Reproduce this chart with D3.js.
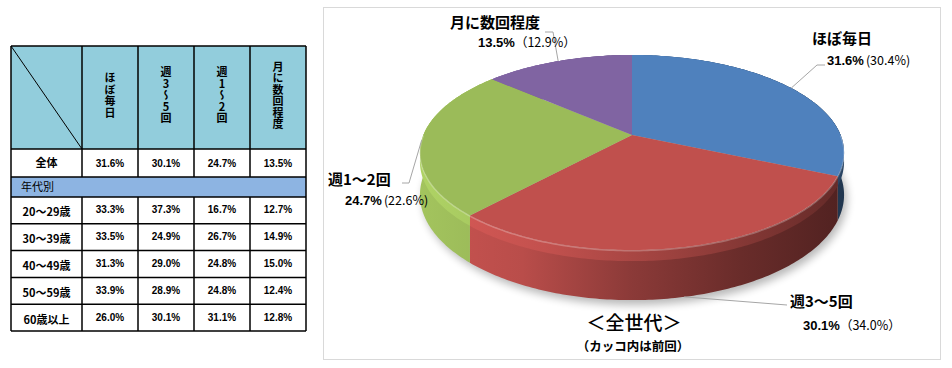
<!DOCTYPE html>
<meta charset="utf-8">
<style>
  body { margin: 0; background: #fff; }
  text { font-family: "Noto Sans CJK JP", "Liberation Sans", sans-serif; }
  .num { font-family: "Liberation Sans", Arial, sans-serif; font-weight: bold; font-size: 10px; }
  .lead { fill: none; stroke: #a6a6a6; stroke-width: 1; }
</style>
<body>
<div id="chart"></div>
<script src="https://cdn.jsdelivr.net/npm/d3@7"></script>
<script>

// ---- data ----
var categories = ["ほぼ毎日", "週3〜5回", "週1〜2回", "月に数回程度"];
var current    = [31.6, 30.1, 24.7, 13.5];
var previous   = [30.4, 34.0, 22.6, 12.9];
var totalLabel = "全体";
var groupLabel = "年代別";
var ageGroups  = ["20〜29歳", "30〜39歳", "40〜49歳", "50〜59歳", "60歳以上"];
var ageValues  = [
  [33.3, 37.3, 16.7, 12.7],
  [33.5, 24.9, 26.7, 14.9],
  [31.3, 29.0, 24.8, 15.0],
  [33.9, 28.9, 24.8, 12.4],
  [26.0, 30.1, 31.1, 12.8]
];
var colors = ["#4f81bd", "#c0504d", "#9bbb59", "#8064a2"];

var width = 952, height = 368;
var pct = function(v) { return d3.format(".1f")(v) + "%"; };

var svg = d3.select("#chart").append("svg")
    .attr("width", width)
    .attr("height", height);

// ================= table =================
var tX = 11, tY = 46, firstW = 71, tRight = 306;
var headH = 103, totalH = 28, groupH = 20, tBottom = 331;

var col = d3.scaleBand().domain(categories).range([tX + firstW, tRight]);
var rowTop = tY + headH + totalH + groupH;
var row = d3.scaleBand().domain(ageGroups).range([rowTop, tBottom]);

var table = svg.append("g").attr("class", "table");

// header fill
table.append("rect")
  .attr("x", tX).attr("y", tY)
  .attr("width", tRight - tX).attr("height", headH)
  .attr("fill", "#92cddc");
// group row fill
table.append("rect")
  .attr("x", tX).attr("y", tY + headH + totalH)
  .attr("width", tRight - tX).attr("height", groupH)
  .attr("fill", "#8db4e2");

// horizontal rules
var hLines = [tY, tY + headH, tY + headH + totalH, rowTop].concat(ageGroups.map(function(g) { return row(g) + row.bandwidth(); }));
table.selectAll(".hl").data(hLines).enter().append("line")
  .attr("x1", tX).attr("x2", tRight)
  .attr("y1", function(d) { return d; }).attr("y2", function(d) { return d; })
  .attr("stroke", "#000").attr("stroke-width", 1.5);

// vertical rules (group row has no inner rules)
var vLines = [tX].concat(categories.map(function(c) { return col(c); })).concat([tRight]);
vLines.forEach(function(x, i) {
  var inner = i > 0 && i < vLines.length - 1;
  var segs = inner ? [[tY, tY + headH + totalH], [rowTop, tBottom]] : [[tY, tBottom]];
  segs.forEach(function(s) {
    table.append("line")
      .attr("x1", x).attr("x2", x).attr("y1", s[0]).attr("y2", s[1])
      .attr("stroke", "#000").attr("stroke-width", 1.5);
  });
});

// diagonal in corner cell
table.append("line")
  .attr("x1", tX).attr("y1", tY).attr("x2", tX + firstW).attr("y2", tY + headH)
  .attr("stroke", "#000").attr("stroke-width", 1);

// vertical header text
table.selectAll(".head").data(categories).enter().append("text")
  .attr("class", "head")
  .attr("x", function(c) { return col(c) + col.bandwidth() / 2; })
  .attr("y", tY + headH / 2 - 2)
  .attr("text-anchor", "middle")
  .style("writing-mode", "vertical-rl")
  .style("text-orientation", "upright")
  .style("font-size", "11px").style("font-weight", "bold")
  .style("letter-spacing", "0.5px")
  .text(function(c) { return c; });

// total row
var totY = tY + headH + totalH / 2;
table.append("text")
  .attr("x", tX + firstW / 2).attr("y", totY + 4)
  .attr("text-anchor", "middle")
  .style("font-size", "11px").style("font-weight", "bold")
  .text(totalLabel);
table.selectAll(".tot").data(current).enter().append("text")
  .attr("class", "num")
  .attr("x", function(d, i) { return col(categories[i]) + col.bandwidth() / 2; })
  .attr("y", totY + 4)
  .attr("text-anchor", "middle")
  .text(pct);

table.append("text")
  .attr("x", tX + 10).attr("y", tY + headH + totalH + groupH / 2 + 4)
  .style("font-size", "11px")
  .text(groupLabel);

// age rows
ageGroups.forEach(function(g, r) {
  var y = row(g) + row.bandwidth() / 2;
  table.append("text")
    .attr("x", tX + firstW / 2).attr("y", y + 6)
    .attr("text-anchor", "middle")
    .style("font-size", "11px").style("font-weight", "bold")
    .text(g);
  table.selectAll(".r" + r).data(ageValues[r]).enter().append("text")
    .attr("class", "num")
    .attr("x", function(d, i) { return col(categories[i]) + col.bandwidth() / 2; })
    .attr("y", y + 3)
    .attr("text-anchor", "middle")
    .text(pct);
});

// ================= 3D pie =================
svg.append("rect")
  .attr("x", 323.5).attr("y", 7.5).attr("width", 617).attr("height", 352)
  .attr("fill", "#fff").attr("stroke", "#d9d9d9");

var cx = 632, cy = 135, Rx = 208.6, Ry = 94.4, k = 0.18, depth = 41;

// perspective projection of a disc point at angle a (0 = back/top, clockwise)
function proj(a, dz) {
  var u = Math.sin(a), v = -Math.cos(a);
  var s = 1 / (1 - k * v);
  return [cx + Rx * u * s, cy + Ry * v * s + (dz || 0) * s];
}
function arcPts(a0, a1, dz) {
  var n = Math.max(2, Math.ceil((a1 - a0) / 0.015));
  return d3.range(n + 1).map(function(i) { return proj(a0 + (a1 - a0) * i / n, dz); });
}
var line = d3.line();

var pie = d3.pie().sort(null).value(function(d) { return d; });
var arcs = pie(current);

var defs = svg.append("defs");
var blur = defs.append("filter").attr("id", "shadow").attr("x", "-20%").attr("y", "-20%").attr("width", "140%").attr("height", "140%");
blur.append("feGaussianBlur").attr("stdDeviation", 4);

arcs.forEach(function(d, i) {
  var base = d3.color(colors[i]);
  var g = defs.append("linearGradient").attr("id", "side" + i)
    .attr("gradientUnits", "userSpaceOnUse")
    .attr("x1", cx - Rx * 1.05).attr("x2", cx + Rx * 1.05).attr("y1", 0).attr("y2", 0);
  [[0, base.brighter(0.15)], [0.25, base.darker(0.1)], [0.5, base.darker(0.9)], [0.75, base.darker(1.7)], [1, base.darker(2.5)]]
    .forEach(function(s) { g.append("stop").attr("offset", s[0]).attr("stop-color", s[1]); });
  var r = defs.append("linearGradient").attr("id", "rim" + i)
    .attr("gradientUnits", "userSpaceOnUse")
    .attr("x1", cx - Rx * 1.05).attr("x2", cx + Rx * 1.05).attr("y1", 0).attr("y2", 0);
  [[0, base.brighter(0.35)], [0.3, base.brighter(0.05)], [0.6, base.darker(0.6)], [1, base.darker(1.9)]]
    .forEach(function(s) { r.append("stop").attr("offset", s[0]).attr("stop-color", s[1]); });
});

// soft shadow under the disc
var pieG = svg.append("g").attr("class", "pie");
pieG.append("path")
  .attr("d", line(arcPts(0, 2 * Math.PI, depth + 4).map(function(p) { return [p[0] + 3, p[1]]; })) + "Z")
  .attr("fill", "#000").attr("opacity", 0.28)
  .attr("filter", "url(#shadow)");

// side walls
pieG.selectAll(".side").data(arcs).enter().append("path")
  .attr("class", "side")
  .attr("d", function(d) {
    return line(arcPts(d.startAngle, d.endAngle, 0).concat(arcPts(d.startAngle, d.endAngle, depth).reverse())) + "Z";
  })
  .attr("fill", function(d, i) { return "url(#side" + i + ")"; });

// bevel band at top of wall
pieG.selectAll(".rim").data(arcs).enter().append("path")
  .attr("class", "rim")
  .attr("d", function(d) {
    return line(arcPts(d.startAngle, d.endAngle, 0).concat(arcPts(d.startAngle, d.endAngle, 9).reverse())) + "Z";
  })
  .attr("fill", function(d, i) { return "url(#rim" + i + ")"; });

// top faces
pieG.selectAll(".top").data(arcs).enter().append("path")
  .attr("class", "top")
  .attr("d", function(d) {
    return line([[cx, cy]].concat(arcPts(d.startAngle, d.endAngle, 0))) + "Z";
  })
  .attr("fill", function(d, i) { return colors[i]; });

// highlight on the front edge
pieG.append("path")
  .attr("d", line(arcPts(Math.PI / 2, Math.PI * 3 / 2, 0.5)))
  .attr("fill", "none").attr("stroke", "#fff").attr("stroke-opacity", 0.25).attr("stroke-width", 1.5);

// ================= labels =================
// layout of each callout: elbow points, label anchors
var callouts = [
  { dz: 0,     elbow: [[817, 65], [825, 65]],  name: [812, 44], val: [827, 65], full: false },
  { dz: depth, elbow: [[787, 305]],            name: [790, 307], val: [803, 330], full: true },
  { dz: 0,     elbow: [[409, 183], [402, 183]], name: [328, 185], val: [345, 205], full: false },
  { dz: 0,     elbow: [[553, 32], [545, 32]],  name: [450, 28], val: [478, 47], full: true }
];

arcs.forEach(function(d, i) {
  var c = callouts[i];
  var mid = (d.startAngle + d.endAngle) / 2;
  var p0 = proj(mid, c.dz);
  svg.append("path").attr("class", "lead")
    .attr("d", line([p0].concat(c.elbow)));

  svg.append("text")
    .attr("x", c.name[0]).attr("y", c.name[1])
    .style("font-size", "15px").style("font-weight", "bold")
    .text(categories[i]);

  var t = svg.append("text")
    .attr("x", c.val[0]).attr("y", c.val[1])
    .style("font-size", "13px");
  t.append("tspan")
    .style("font-family", "Liberation Sans, Arial, sans-serif").style("font-weight", "bold")
    .text(pct(current[i]));
  t.append("tspan")
    .attr("dx", c.full ? 0 : 2)
    .style("font-size", "12.5px")
    .text(c.full ? "（" + pct(previous[i]) + "）" : "(" + pct(previous[i]) + ")");
});

svg.append("text")
  .attr("x", 634).attr("y", 330)
  .attr("text-anchor", "middle")
  .style("font-size", "19px").style("font-weight", "500")
  .text("＜全世代＞");

svg.append("text")
  .attr("x", 633).attr("y", 351)
  .attr("text-anchor", "middle")
  .style("font-size", "12.5px").style("font-weight", "bold")
  .text("（カッコ内は前回）");

</script>
</body>
</html>
